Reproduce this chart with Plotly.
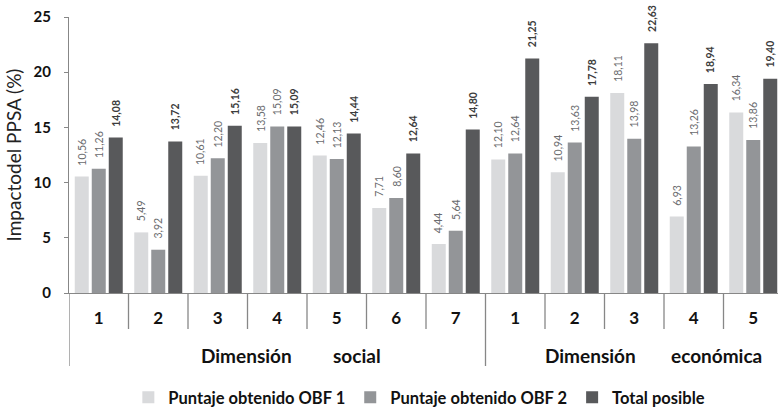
import plotly.graph_objects as go

# Indicator numbers inside each dimension
categories = ["1", "2", "3", "4", "5", "6", "7", "1", "2", "3", "4", "5"]
dimensions = ["Dimensión social"] * 7 + ["Dimensión económica"] * 5

series_names = ["Puntaje obtenido OBF 1", "Puntaje obtenido OBF 2", "Total posible"]
obf1 = [10.56, 5.49, 10.61, 13.58, 12.46, 7.71, 4.44, 12.10, 10.94, 18.11, 6.93, 16.34]
obf2 = [11.26, 3.92, 12.20, 15.09, 12.13, 8.60, 5.64, 12.64, 13.63, 13.98, 13.26, 13.86]
total = [14.08, 13.72, 15.16, 15.09, 14.44, 12.64, 14.80, 21.25, 17.78, 22.63, 18.94, 19.40]

y_ticks = [0, 5, 10, 15, 20, 25]

colors = ["#d9dadc", "#939598", "#58595b"]
label_colors = ["#6a6b6e", "#6a6b6e", "#3c3c3c"]
label_bold = [False, False, True]

W, H = 778, 409
ML, MT, MB = 69, 17, 116
cat_px = 59.5                       # pixel width of one category slot
plot_w = W - ML
x_hi = -0.5 + plot_w / cat_px        # last slot runs a little past the right edge
plot_h = H - MT - MB

bar_w = 14 / cat_px
bar_step = 17 / cat_px

FONT = "Lato"
idx = list(range(len(categories)))

fig = go.Figure()
annotations = []
for k, (name, vals) in enumerate(zip(series_names, [obf1, obf2, total])):
    shift = (k - 1) * bar_step
    fig.add_trace(go.Bar(
        x=idx, y=vals, name=name,
        width=bar_w, offset=shift - bar_w / 2,
        marker=dict(color=colors[k], line=dict(width=0)),
        hoverinfo="y+name",
    ))
    for i, v in zip(idx, vals):
        txt = f"{v:.2f}".replace(".", ",")
        if label_bold[k]:
            txt = f"<b>{txt}</b>"
        annotations.append(dict(
            x=i + shift, y=v, xref="x", yref="y", text=txt, showarrow=False,
            textangle=-90, xanchor="center", yanchor="bottom", yshift=9,
            font=dict(family=FONT, size=10.5, color=label_colors[k]),
        ))

# Dimension names spread under each block of indicators
for word, xpos in [("Dimensión", 2.49), ("social", 4.34),
                   ("Dimensión", 8.26), ("económica", 10.39)]:
    annotations.append(dict(
        x=xpos, y=-(355 - (H - MB)) / plot_h, xref="x", yref="paper",
        text=f"<b>{word}</b>", showarrow=False, xanchor="center", yanchor="middle",
        font=dict(family=FONT, size=19, color="#111111"),
    ))

axis_grey = "#878787"
shapes = []
# separators between indicators; longer ones mark the dimension boundaries
starts = [i for i in range(len(dimensions)) if i == 0 or dimensions[i] != dimensions[i - 1]]
for i in idx:
    long_line = i in starts
    depth = 73 if long_line else 36
    shapes.append(dict(
        type="line", xref="x", yref="paper",
        x0=i - 0.5, x1=i - 0.5, y0=0, y1=-depth / plot_h,
        line=dict(color=axis_grey, width=1.3),
    ))

fig.update_layout(
    width=W, height=H,
    margin=dict(l=ML, r=0, t=MT, b=MB, pad=0),
    paper_bgcolor="white", plot_bgcolor="white",
    barmode="overlay",
    showlegend=True,
    legend=dict(
        orientation="h", xref="container", yref="container",
        x=0.539, xanchor="center", y=0.028, yanchor="middle",
        font=dict(family=FONT, size=16.5, color="#111111", weight="bold"),
        itemwidth=30, tracegroupgap=0,
    ),
    annotations=annotations,
    shapes=shapes,
    font=dict(family=FONT),
)

fig.update_xaxes(
    range=[-0.5, x_hi],
    tickmode="array", tickvals=idx,
    ticktext=[f"<b>{c}</b>" for c in categories],
    tickfont=dict(family=FONT, size=17, color="#111111"),
    ticks="", ticklabelstandoff=9,
    showline=True, linecolor=axis_grey, linewidth=1.3,
    showgrid=False, zeroline=False, fixedrange=True,
)
fig.update_yaxes(
    range=[0, 25], tickmode="array", tickvals=y_ticks,
    ticktext=[f"<b>{t}</b>" for t in y_ticks],
    tickfont=dict(family=FONT, size=15, color="#111111"),
    ticks="outside", ticklen=4, tickcolor=axis_grey, tickwidth=1.3,
    ticklabelstandoff=10,
    showline=True, linecolor=axis_grey, linewidth=1.3,
    showgrid=False, zeroline=False, fixedrange=True,
    title=dict(text="Impactodel PPSA (%)", standoff=6,
               font=dict(family=FONT, size=19, color="#222222")),
)

fig.write_html("out.html")
